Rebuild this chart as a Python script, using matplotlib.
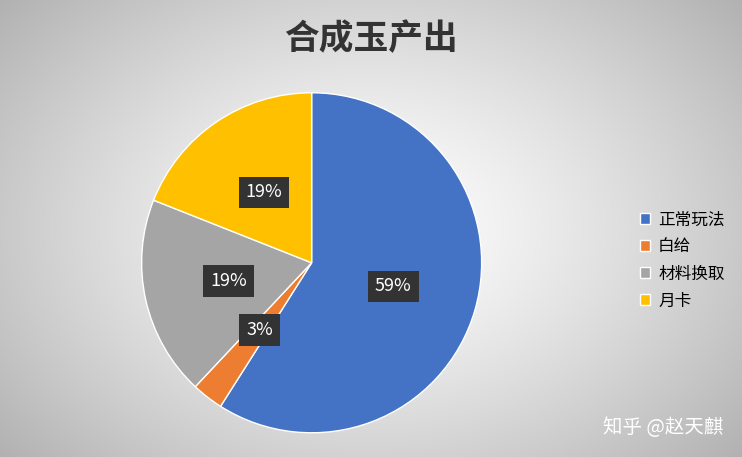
import numpy as np
import matplotlib.pyplot as plt

plt.rcParams['font.family'] = ['Noto Sans CJK SC', 'DejaVu Sans']

categories = ['正常玩法', '白给', '材料换取', '月卡']
values = [59, 3, 19, 19]
colors = ['#4472C4', '#ED7D31', '#A5A5A5', '#FFC000']

fig = plt.figure(figsize=(7.42, 4.57), dpi=100)

# radial gradient background
bg = fig.add_axes([0, 0, 1, 1])
yy, xx = np.mgrid[0:457, 0:742]
d = np.sqrt(((xx - 371) / 420.0) ** 2 + ((yy - 228) / 300.0) ** 2)
shade = np.clip(1.0 - 0.25 * d ** 1.3, 0, 1)
bg.imshow(np.dstack([shade] * 3), aspect='auto', extent=[0, 1, 0, 1])
bg.axis('off')

h = 0.744
w = h * 457 / 742
ax = fig.add_axes([0.42 - w / 2, 0.425 - h / 2, w, h])
wedges, texts = ax.pie(
    values, colors=colors, startangle=90, counterclock=False,
    wedgeprops=dict(edgecolor='white', linewidth=1),
)
for wd, v in zip(wedges, values):
    ang = np.deg2rad((wd.theta1 + wd.theta2) / 2)
    ax.text(0.5 * np.cos(ang), 0.5 * np.sin(ang), f'{v}%', ha='center', va='center',
            color='white', fontsize=13,
            bbox=dict(facecolor='#333333', edgecolor='none', hatch='....', pad=5))
ax.set_xlim(-1, 1)
ax.set_ylim(-1, 1)
ax.set_aspect('equal')

fig.text(0.5, 0.915, '合成玉产出', ha='center', va='center', fontsize=25,
         fontweight='bold', color='#333333')

fig.legend(wedges, categories, loc='center left', bbox_to_anchor=(0.842, 0.43),
           frameon=False, fontsize=12, handlelength=0.6, handleheight=0.6,
           handletextpad=0.5, labelspacing=0.6)

fig.text(0.975, 0.065, '知乎 @赵天麒', ha='right', va='center', fontsize=14, color='white')

fig.savefig('out.png', dpi=100)
